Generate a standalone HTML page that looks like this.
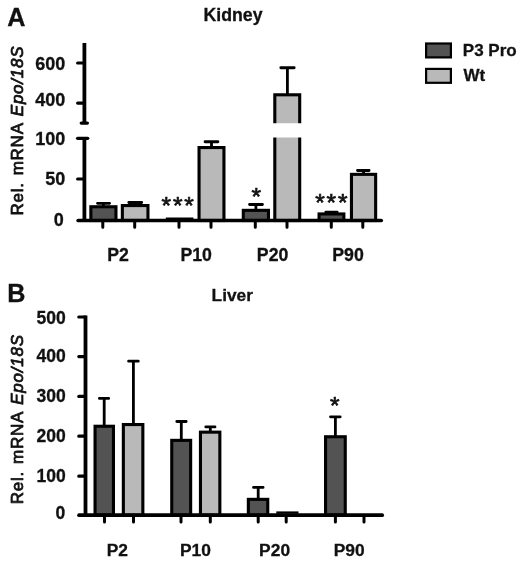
<!DOCTYPE html>
<html lang="en">
<head>
<meta charset="utf-8">
<title>Epo mRNA expression in kidney and liver</title>
<style>
html,body{margin:0;padding:0;background:#fff;}
body{width:520px;height:561px;overflow:hidden;}
svg{display:block;}
svg text{font-family:"Liberation Sans",sans-serif;fill:#111;}
</style>
</head>
<body>
<svg width="520" height="561" viewBox="0 0 520 561">
<rect x="0" y="0" width="520" height="561" fill="#fff"/>
<path d="M97.50 203.30H109.60M103.40 203.30V207.00" stroke="#000" stroke-width="2.8" stroke-linecap="round" fill="none"/>
<path d="M128.80 202.50H141.70M135.20 202.50V206.00" stroke="#000" stroke-width="2.8" stroke-linecap="round" fill="none"/>
<path d="M205.05 141.75H217.95M211.50 141.75V148.00" stroke="#000" stroke-width="2.8" stroke-linecap="round" fill="none"/>
<path d="M249.55 204.50H262.45M255.90 204.50V210.00" stroke="#000" stroke-width="2.8" stroke-linecap="round" fill="none"/>
<path d="M280.80 67.75H294.20M287.40 67.75V95.00" stroke="#000" stroke-width="2.8" stroke-linecap="round" fill="none"/>
<path d="M325.80 212.20H337.20M331.50 212.20V213.00" stroke="#000" stroke-width="2.8" stroke-linecap="round" fill="none"/>
<path d="M357.50 170.50H369.10M363.60 170.50V174.00" stroke="#000" stroke-width="2.8" stroke-linecap="round" fill="none"/>
<rect x="90.85" y="206.75" width="25.10" height="13.75" fill="#535353" stroke="#000" stroke-width="3.1"/>
<rect x="122.35" y="205.55" width="25.60" height="14.95" fill="#b9b9b9" stroke="#000" stroke-width="3.1"/>
<path d="M165.8 218.3H193.4" stroke="#000" stroke-width="1.6" fill="none"/>
<rect x="199.05" y="147.55" width="24.90" height="72.95" fill="#b9b9b9" stroke="#000" stroke-width="3.1"/>
<rect x="243.30" y="210.35" width="25.15" height="10.15" fill="#535353" stroke="#000" stroke-width="3.1"/>
<rect x="274.80" y="94.80" width="24.90" height="125.70" fill="#b9b9b9" stroke="#000" stroke-width="3.1"/>
<rect x="271" y="123.25" width="33" height="14.25" fill="#fff"/>
<rect x="319.05" y="213.95" width="24.80" height="6.55" fill="#535353" stroke="#000" stroke-width="3.1"/>
<rect x="351.45" y="174.35" width="24.20" height="46.15" fill="#b9b9b9" stroke="#000" stroke-width="3.1"/>
<path d="M84.4 43V123" stroke="#000" stroke-width="3.8" fill="none"/>
<path d="M81.2 123.1H87.4" stroke="#000" stroke-width="3.2" stroke-linecap="round" fill="none"/>
<path d="M84.4 138V220.5" stroke="#000" stroke-width="3.8" fill="none"/>
<path d="M77.6 138.3H87.7" stroke="#000" stroke-width="3.3" stroke-linecap="round" fill="none"/>
<path d="M77.6 63H84.4M77.6 103.1H84.4M77.6 179H84.4" stroke="#000" stroke-width="3.1" stroke-linecap="round" fill="none"/>
<path d="M78.2 220.5H381.2" stroke="#000" stroke-width="3.7" stroke-linecap="round" fill="none"/>
<path d="M102.8 220.5V227.2M134.7 220.5V227.2M179 220.5V227.2M211 220.5V227.2M255.3 220.5V227.2M287 220.5V227.2M331.3 220.5V227.2M362.8 220.5V227.2" stroke="#000" stroke-width="3" stroke-linecap="round" fill="none"/>
<text x="7.3" y="25.5" font-size="25.2" font-weight="bold" text-anchor="start" stroke="#111" stroke-width="0.3" >A</text>
<text x="203.5" y="20.9" font-size="17.7" font-weight="bold" text-anchor="start" stroke="#111" stroke-width="0.3" >Kidney</text>
<text x="65.4" y="69.75" font-size="18" font-weight="bold" text-anchor="end" stroke="#111" stroke-width="0.3" >600</text>
<text x="65.4" y="105.9" font-size="18" font-weight="bold" text-anchor="end" stroke="#111" stroke-width="0.3" >400</text>
<text x="65.4" y="145" font-size="18" font-weight="bold" text-anchor="end" stroke="#111" stroke-width="0.3" >100</text>
<text x="65.4" y="185" font-size="18" font-weight="bold" text-anchor="end" stroke="#111" stroke-width="0.3" >50</text>
<text x="63.8" y="225.6" font-size="18" font-weight="bold" text-anchor="end" stroke="#111" stroke-width="0.3" >0</text>
<text x="118.1" y="261.4" font-size="17.7" font-weight="bold" text-anchor="middle" stroke="#111" stroke-width="0.3" >P2</text>
<text x="196.2" y="261.4" font-size="17.7" font-weight="bold" text-anchor="middle" stroke="#111" stroke-width="0.3" >P10</text>
<text x="272.6" y="261.4" font-size="17.7" font-weight="bold" text-anchor="middle" stroke="#111" stroke-width="0.3" >P20</text>
<text x="348" y="261.4" font-size="17.7" font-weight="bold" text-anchor="middle" stroke="#111" stroke-width="0.3" >P90</text>
<text x="178.6" y="213.6" font-size="24.5" font-weight="normal" text-anchor="middle" stroke="#111" stroke-width="0.7" letter-spacing="1.8">***</text>
<text x="256.3" y="205.2" font-size="24.5" font-weight="normal" text-anchor="middle" stroke="#111" stroke-width="0.7" >*</text>
<text x="332.3" y="211" font-size="24.5" font-weight="normal" text-anchor="middle" stroke="#111" stroke-width="0.7" letter-spacing="1.8">***</text>
<text transform="translate(22.5 215.6) rotate(-90)" font-size="17" font-weight="normal" stroke="#111" stroke-width="0.8" stroke-linejoin="round" letter-spacing="0.76" word-spacing="1.5">Rel. mRNA <tspan font-style="italic">Epo/18S</tspan></text>
<rect x="426.10" y="43.50" width="24.80" height="13.90" fill="#535353" stroke="#000" stroke-width="2.2"/>
<rect x="426.10" y="68.90" width="24.80" height="13.90" fill="#b9b9b9" stroke="#000" stroke-width="2.2"/>
<text x="462.8" y="56.2" font-size="17" font-weight="bold" text-anchor="start" stroke="#111" stroke-width="0.3" >P3 Pro</text>
<text x="463.4" y="81.3" font-size="17" font-weight="bold" text-anchor="start" stroke="#111" stroke-width="0.3" >Wt</text>
<path d="M99.40 398.40H108.70M104.20 398.40V426.00" stroke="#000" stroke-width="2.8" stroke-linecap="round" fill="none"/>
<path d="M128.60 361.20H138.30M133.40 361.20V425.00" stroke="#000" stroke-width="2.8" stroke-linecap="round" fill="none"/>
<path d="M176.80 421.50H186.20M181.30 421.50V440.00" stroke="#000" stroke-width="2.8" stroke-linecap="round" fill="none"/>
<path d="M205.80 426.90H215.00M210.30 426.90V432.00" stroke="#000" stroke-width="2.8" stroke-linecap="round" fill="none"/>
<path d="M253.50 487.40H263.10M258.20 487.40V499.00" stroke="#000" stroke-width="2.8" stroke-linecap="round" fill="none"/>
<path d="M330.50 416.80H340.20M335.40 416.80V437.00" stroke="#000" stroke-width="2.8" stroke-linecap="round" fill="none"/>
<rect x="95.05" y="426.25" width="18.40" height="88.95" fill="#535353" stroke="#000" stroke-width="3.1"/>
<rect x="123.35" y="424.55" width="19.50" height="90.65" fill="#b9b9b9" stroke="#000" stroke-width="3.1"/>
<rect x="171.75" y="440.35" width="18.90" height="74.85" fill="#535353" stroke="#000" stroke-width="3.1"/>
<rect x="200.45" y="432.15" width="19.40" height="83.05" fill="#b9b9b9" stroke="#000" stroke-width="3.1"/>
<rect x="248.35" y="499.35" width="19.40" height="15.85" fill="#535353" stroke="#000" stroke-width="3.1"/>
<path d="M276.3 512.6H298.5" stroke="#000" stroke-width="2.4" fill="none"/>
<rect x="325.55" y="436.75" width="19.70" height="78.45" fill="#535353" stroke="#000" stroke-width="3.1"/>
<path d="M85.5 315.6V515.2" stroke="#000" stroke-width="3.8" fill="none"/>
<path d="M78.8 317H85.5M78.8 356.6H85.5M78.8 396.4H85.5M78.8 436.2H85.5M78.8 476.2H85.5" stroke="#000" stroke-width="3.2" stroke-linecap="round" fill="none"/>
<path d="M79 515.2H382.2" stroke="#000" stroke-width="3.7" stroke-linecap="round" fill="none"/>
<path d="M104.5 515.2V522M133.5 515.2V522M181 515.2V522M210.3 515.2V522M258.2 515.2V522M286.2 515.2V522M335.4 515.2V522M364 515.2V522" stroke="#000" stroke-width="3" stroke-linecap="round" fill="none"/>
<text x="7.3" y="301.8" font-size="25.2" font-weight="bold" text-anchor="start" stroke="#111" stroke-width="0.3" >B</text>
<text x="211.6" y="300.5" font-size="17.3" font-weight="bold" text-anchor="start" stroke="#111" stroke-width="0.3" >Liver</text>
<text x="65.8" y="324.3" font-size="17.5" font-weight="bold" text-anchor="end" stroke="#111" stroke-width="0.3" >500</text>
<text x="65.8" y="362.0" font-size="17.5" font-weight="bold" text-anchor="end" stroke="#111" stroke-width="0.3" >400</text>
<text x="65.8" y="401.6" font-size="17.5" font-weight="bold" text-anchor="end" stroke="#111" stroke-width="0.3" >300</text>
<text x="65.8" y="441.8" font-size="17.5" font-weight="bold" text-anchor="end" stroke="#111" stroke-width="0.3" >200</text>
<text x="65.8" y="482.2" font-size="17.5" font-weight="bold" text-anchor="end" stroke="#111" stroke-width="0.3" >100</text>
<text x="65.2" y="518.8" font-size="17.5" font-weight="bold" text-anchor="end" stroke="#111" stroke-width="0.3" >0</text>
<text x="117.3" y="555.6" font-size="17.4" font-weight="bold" text-anchor="middle" stroke="#111" stroke-width="0.3" >P2</text>
<text x="195.5" y="555.6" font-size="17.4" font-weight="bold" text-anchor="middle" stroke="#111" stroke-width="0.3" >P10</text>
<text x="274.6" y="555.6" font-size="17.4" font-weight="bold" text-anchor="middle" stroke="#111" stroke-width="0.3" >P20</text>
<text x="349.2" y="555.6" font-size="17.4" font-weight="bold" text-anchor="middle" stroke="#111" stroke-width="0.3" >P90</text>
<text x="334.8" y="414" font-size="24.5" font-weight="normal" text-anchor="middle" stroke="#111" stroke-width="0.7" >*</text>
<text transform="translate(22.5 504.2) rotate(-90)" font-size="17" font-weight="normal" stroke="#111" stroke-width="0.8" stroke-linejoin="round" letter-spacing="0.76" word-spacing="1.5">Rel. mRNA <tspan font-style="italic">Epo/18S</tspan></text>
</svg>
</body>
</html>
